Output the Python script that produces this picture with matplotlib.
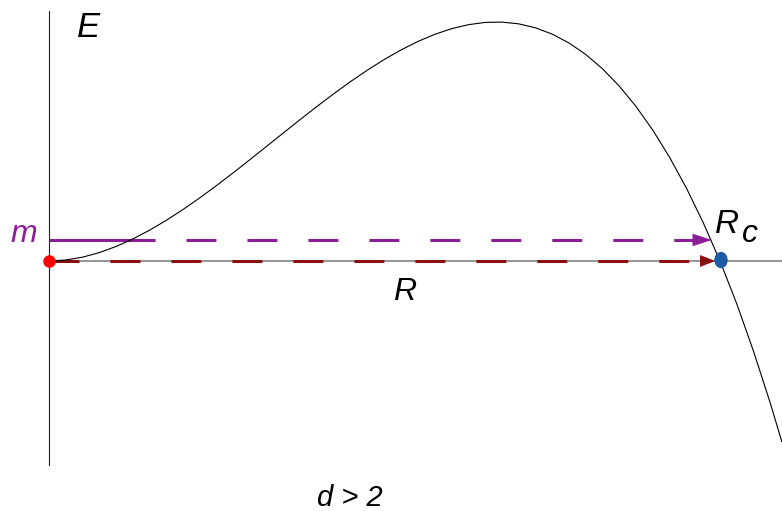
import matplotlib
matplotlib.use("Agg")
import matplotlib.pyplot as plt
from matplotlib.patches import Ellipse

plt.rcParams['font.family'] = ['Liberation Sans', 'DejaVu Sans']
plt.rcParams['lines.scale_dashes'] = False

# Energy curve E(R), R scaled so that R_c = 1, E scaled so that the peak = 1
r_vals = [0.000, 0.025, 0.050, 0.075, 0.100, 0.125, 0.150, 0.175, 0.200, 0.225,
          0.250, 0.275, 0.300, 0.325, 0.350, 0.375, 0.400, 0.425, 0.450, 0.475,
          0.500, 0.525, 0.550, 0.575, 0.600, 0.625, 0.650, 0.675, 0.700, 0.725,
          0.750, 0.775, 0.800, 0.825, 0.850, 0.875, 0.900, 0.925, 0.950, 0.975,
          1.000, 1.025, 1.050, 1.075, 1.092]
e_vals = [0.0000, 0.0041, 0.0160, 0.0351, 0.0608, 0.0923, 0.1291, 0.1705, 0.2160, 0.2648,
          0.3164, 0.3701, 0.4253, 0.4813, 0.5375, 0.5933, 0.6480, 0.7011, 0.7518, 0.7996,
          0.8438, 0.8837, 0.9188, 0.9485, 0.9720, 0.9888, 0.9982, 0.9995, 0.9923, 0.9757,
          0.9492, 0.9122, 0.8640, 0.8040, 0.7315, 0.6460, 0.5468, 0.4332, 0.3046, 0.1604,
          0.0000, -0.1790, -0.3780, -0.5950, -0.7550]

m_level = 0.088      # energy m
r_cross = 0.122      # where the curve reaches m
r_c = 1.0            # R_c
purple_tip = 0.988
red_tip = 0.993

purple = '#8B1E96'
darkred = '#8B0F0F'
blue = '#1F5AA6'

fig = plt.figure(figsize=(7.82, 5.11), dpi=100)
ax = fig.add_axes([0, 0, 1, 1])
ax.set_xlim(-49 / 671, 733 / 671)
ax.set_ylim(-250 / 239, 261 / 239)
ax.axis('off')

# axes lines
ax.plot([0, 733 / 671], [0, 0], color='#777777', lw=1.1, zorder=1)
ax.plot([0, 0], [-0.854, 1.046], color='#222222', lw=0.8, zorder=1)

# purple m line: solid up to the curve, dashed afterwards
ax.plot([0, r_cross], [m_level, m_level], color=purple, lw=2.2, solid_capstyle='butt', zorder=2)
ax.plot([0.113, purple_tip - 0.02], [m_level, m_level], color=purple, lw=2.2,
        dashes=(21.6, 22.3), zorder=2)
ax.annotate('', xy=(purple_tip, m_level), xytext=(purple_tip - 0.05, m_level),
            arrowprops=dict(arrowstyle='-|>,head_length=1.4,head_width=0.45',
                            color=purple, lw=0, shrinkA=0, shrinkB=0, mutation_scale=10),
            zorder=3)

# dark red R line
ax.plot([0, red_tip - 0.015], [0, 0], color=darkred, lw=2.2, dashes=(21.6, 22.3), zorder=2)
ax.annotate('', xy=(red_tip, 0), xytext=(red_tip - 0.05, 0),
            arrowprops=dict(arrowstyle='-|>,head_length=1.1,head_width=0.43',
                            color=darkred, lw=0, shrinkA=0, shrinkB=0, mutation_scale=10),
            zorder=3)

# curve
ax.plot(r_vals, e_vals, color='black', lw=0.8, zorder=4)

# points
ax.plot([0], [0], 'o', color='red', markersize=8, zorder=5)
ax.add_patch(Ellipse((r_c + 0.0015, 0.004), 12 / 671, 15 / 239, color=blue, zorder=5))

# labels
ax.text(0.0417, 0.937, 'E', fontsize=25, style='italic', ha='left', va='baseline')
ax.text(-0.058, 0.0795, 'm', fontsize=23, style='italic', color=purple, ha='left', va='baseline')
ax.text(0.5306, -0.163, 'R', fontsize=23, style='italic', ha='center', va='baseline')
ax.text(0.9925, 0.117, 'R', fontsize=24, style='italic', ha='left', va='baseline')
ax.text(1.0328, 0.0795, 'c', fontsize=23, style='italic', ha='left', va='baseline')
ax.text(0.4486, -1.025, 'd > 2', fontsize=21, style='italic', ha='center', va='baseline')

fig.savefig('out.png', dpi=100)
